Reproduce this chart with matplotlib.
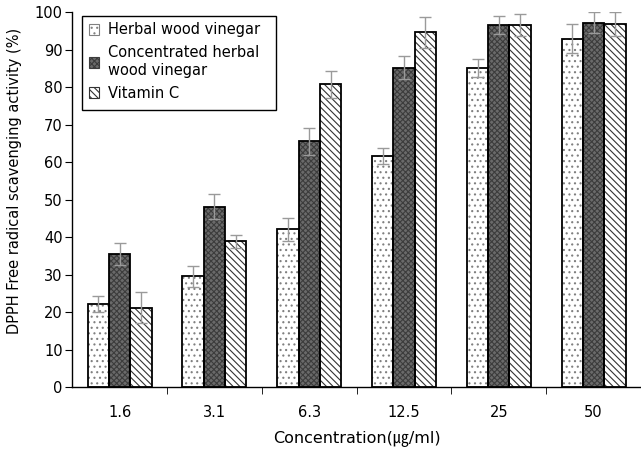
import numpy as np
import matplotlib
matplotlib.use("Agg")
import matplotlib.pyplot as plt

plt.rcParams['font.family'] = ['DejaVu Sans', 'Noto Sans CJK KR']
plt.rcParams['hatch.linewidth'] = 0.8

# DPPH scavenging activity (%) by concentration
concentrations = ["1.6", "3.1", "6.3", "12.5", "25", "50"]
herbal = [22.2, 29.6, 42.1, 61.6, 85.1, 92.9]
herbal_err = [2.2, 2.8, 3.0, 2.1, 2.3, 3.9]
concentrated = [35.5, 48.1, 65.6, 85.2, 96.5, 97.2]
concentrated_err = [3.0, 3.3, 3.6, 3.1, 2.4, 2.9]
vitamin_c = [21.2, 38.9, 80.7, 94.6, 96.5, 96.9]
vitamin_c_err = [4.1, 1.8, 3.5, 4.2, 3.0, 3.2]

series = [
    ("Herbal wood vinegar", herbal, herbal_err, "white", "#808080", "..."),
    ("Concentrated herbal\nwood vinegar", concentrated, concentrated_err, "#6a6a6a", "#3c3c3c", "xxxxxx"),
    ("Vitamin C", vitamin_c, vitamin_c_err, "white", "#333333", "\\\\\\\\\\"),
]

fig = plt.figure(figsize=(6.41, 4.5), dpi=100)
ax = fig.add_axes([0.1128, 0.1393, 0.8872, 0.834])

x = np.arange(len(concentrations))
w = 0.225
handles = []
for i, (label, vals, errs, fc, hc, hatch) in enumerate(series):
    pos = x + (i - 1) * w
    # hatched fill layer, then a black outline on top
    ax.bar(pos, vals, w, facecolor=fc, edgecolor=hc, hatch=hatch, linewidth=0, zorder=2)
    ax.bar(pos, vals, w, facecolor="none", edgecolor="black", linewidth=1.3, zorder=3)
    ax.errorbar(pos, vals, yerr=errs, fmt="none", ecolor="#9a9a9a",
                elinewidth=1.0, capsize=4, capthick=1.0, zorder=4)
    h = plt.Rectangle((0, 0), 1, 1, facecolor=fc, edgecolor=hc, hatch=hatch, linewidth=0.8)
    handles.append((h, label))

ax.set_xlim(-0.5, 5.5)
ax.set_ylim(0, 100)
ax.set_yticks(np.arange(0, 101, 10))
ax.set_xticks(x)
ax.set_xticklabels(concentrations)
ax.tick_params(axis="x", length=0, labelsize=10.5, pad=13)
ax.tick_params(axis="y", length=5, labelsize=10.5, direction="out", pad=2)
ax.set_xticks(x[:-1] + 0.5, minor=True)
ax.tick_params(axis="x", which="minor", length=5, direction="out")

for s in ("top", "right"):
    ax.spines[s].set_visible(False)
ax.spines["left"].set_linewidth(1.0)
ax.spines["bottom"].set_linewidth(1.0)

ax.set_ylabel("DPPH Free radical scavenging activity (%)", fontsize=10.5)
ax.yaxis.set_label_coords(-0.088, 0.55)
ax.set_xlabel("Concentration(㎍/ml)", fontsize=11.5, labelpad=7)

# legend box drawn separately so it can be a bit wider than the text
ax.add_patch(plt.Rectangle((0.0176, 0.7387), 0.341, 0.2507, transform=ax.transAxes,
                           facecolor="white", edgecolor="black", linewidth=1.0,
                           zorder=5, clip_on=False))
leg = ax.legend([h for h, _ in handles], [l for _, l in handles],
                loc="upper left", bbox_to_anchor=(0.017, 0.99), fontsize=10.5,
                frameon=False, handlelength=0.75, handleheight=0.75,
                handletextpad=0.6, borderpad=0.45, labelspacing=0.55,
                borderaxespad=0)
leg.set_zorder(6)

fig.savefig("out.png", dpi=100)
